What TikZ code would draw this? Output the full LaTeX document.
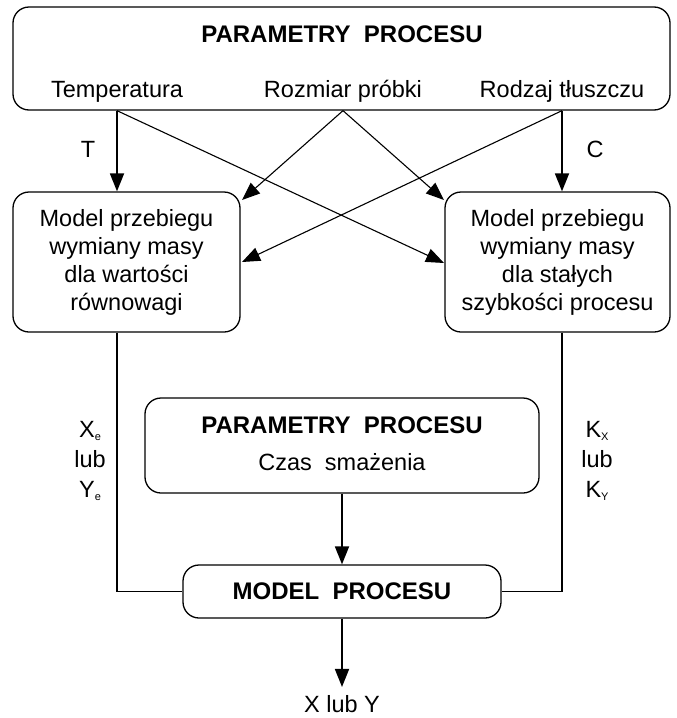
\documentclass[tikz,border=0pt]{standalone}
\usepackage{fontspec}
\setmainfont{Liberation Sans}
\usepackage{tikz}
\usetikzlibrary{arrows.meta}

\tikzset{
	box/.style={draw, rounded corners=16pt, line width=1.3pt, align=center, inner sep=0pt},
	txt/.style={font=\fontsize{23.5}{28}\selectfont, align=center, inner sep=0pt},
	ttl/.style={font=\fontsize{24}{28}\selectfont\bfseries, inner sep=0pt},
	arr/.style={line width=1.8pt, -{Triangle[length=18pt,width=14pt]}},
	xarr/.style={line width=1.1pt, -{Triangle[length=18pt,width=14pt]}}
}
\newcommand{\lowidx}[1]{\raisebox{-3pt}{\fontsize{11}{11}\selectfont #1}}

\begin{document}
\begin{tikzpicture}[x=1pt, y=-1pt]
\useasboundingbox (0,0) rectangle (677,718);

% boxes
\node (top) [box, minimum width=657pt, minimum height=103pt] at (341.5,58.5) {};
\node (ttop) [ttl, anchor=base] at (342,42) {PARAMETRY\ \ PROCESU};
\node (temp) [txt, anchor=base] at (117,97) {Temperatura};
\node (rozm) [txt, anchor=base] at (343,97) {Rozmiar próbki};
\node (rodz) [txt, anchor=base] at (562,97) {Rodzaj tłuszczu};

\node (left) [box, txt, minimum width=227pt, minimum height=140pt] at (126.5,262)
	{Model przebiegu\\wymiany masy\\dla wartości\\równowagi};
\node (right) [box, txt, minimum width=225pt, minimum height=140pt] at (557.5,262)
	{Model przebiegu\\wymiany masy\\dla stałych\\szybkości procesu};

\node (czas) [box, minimum width=394pt, minimum height=95pt] at (342,445.5) {};
\node (tczas) [ttl, anchor=base] at (342,433.5) {PARAMETRY\ \ PROCESU};
\node (smaz) [txt, anchor=base] at (342,470) {Czas\ \ smażenia};

\node (model) [box, ttl, minimum width=318pt, minimum height=53pt] at (342,591.5)
	{MODEL\ \ PROCESU};
\node (out) [font=\fontsize{23.5}{28}\selectfont, inner sep=0pt, anchor=base, outer ysep=8pt] at (342,712) {X lub Y};

% end points of the crossing arrows
\coordinate (lhi) at (242,200);
\coordinate (llo) at (242,262);
\coordinate (rhi) at (444,200);
\coordinate (rlo) at (444,263);

\path[arr]
(temp |- top.south) edge (temp |- left.north)
(rodz |- top.south) edge (rodz |- right.north)
(czas.south) edge (model.north)
(model.south) edge (out.north)
;
\path[xarr]
(temp |- top.south) edge (rlo)
(rozm |- top.south) edge (lhi)
	edge (rhi)
(rodz |- top.south) edge (llo)
;

\draw[line width=1.3pt] (temp |- left.south) |- (model.west);
\draw[line width=1.3pt] (rodz |- right.south) |- (model.east);

% labels
\node (lt) [txt, anchor=base] at (88,157) {T};
\node (lc) [txt, anchor=base] at (595,157) {C};
\node (xe) [txt, anchor=base, font=\fontsize{23.5}{30}\selectfont] at (90,497) {X\lowidx{e}\\lub\\Y\lowidx{e}};
\node (kx) [txt, anchor=base, font=\fontsize{23.5}{30}\selectfont] at (597,497) {K\lowidx{X}\\lub\\K\lowidx{Y}};
\end{tikzpicture}
\end{document}
